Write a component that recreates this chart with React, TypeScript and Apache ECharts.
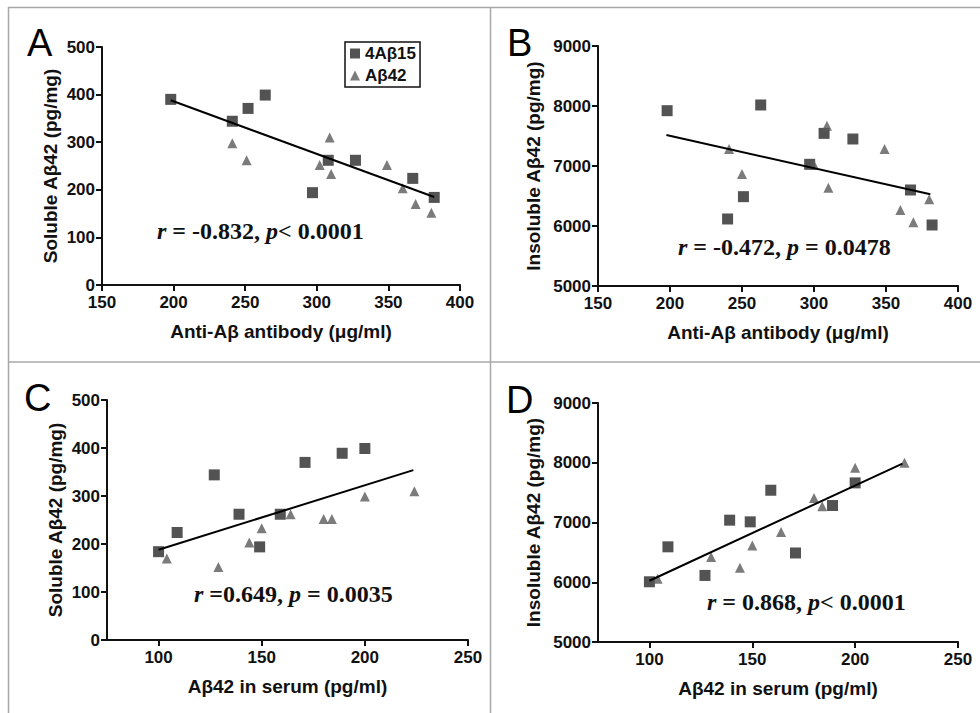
import React, { useEffect, useRef } from "react";
import * as echarts from "echarts";

// ---- Data ----
const seriesNames = ["4Aβ15", "Aβ42"];

// Panel A: Anti-Aβ antibody (μg/ml) vs soluble Aβ42 (pg/mg)
const aSquareX = [198, 241, 252, 264, 297, 308, 327, 367, 382];
const aSquareY = [390, 344, 371, 399, 194, 262, 262, 224, 184];
const aTriX = [241, 251, 302, 309, 310, 349, 360, 369, 380];
const aTriY = [298, 262, 252, 310, 233, 252, 203, 170, 152];
const aFitX = [198, 382];
const aFitY = [388, 185];

// Panel B: Anti-Aβ antibody vs insoluble Aβ42
const bSquareX = [198, 263, 307, 327, 297, 367, 251, 240, 382];
const bSquareY = [7922, 8017, 7544, 7450, 7028, 6600, 6489, 6117, 6017];
const bTriX = [241, 250, 300, 309, 310, 349, 360, 369, 380];
const bTriY = [7283, 6867, 7017, 7672, 6639, 7283, 6267, 6061, 6444];
const bFitX = [197.5, 380.8];
const bFitY = [7517, 6528];

// Panel C: Aβ42 in serum (pg/ml) vs soluble Aβ42
const cSquareX = [100, 109, 127, 139, 149, 159, 171, 189, 200];
const cSquareY = [184, 224, 344, 262, 194, 262, 370, 389, 399];
const cTriX = [104, 129, 144, 150, 164, 180, 184, 200, 224];
const cTriY = [170, 152, 203, 233, 262, 252, 252, 299, 310];
const cFitX = [100, 223.5];
const cFitY = [188, 354];

// Panel D: Aβ42 in serum vs insoluble Aβ42
const dSquareX = [100, 109, 127, 139, 149, 159, 171, 189, 200];
const dSquareY = [6008, 6593, 6114, 7039, 7011, 7540, 6490, 7284, 7663];
const dTriX = [104, 130, 144, 150, 164, 180, 184, 200, 224];
const dTriY = [6058, 6421, 6242, 6616, 6839, 7412, 7270, 7915, 7999];
const dFitX = [100, 223];
const dFitY = [6025, 7986];

// Axis ticks
const antibodyTicks = [150, 200, 250, 300, 350, 400];
const serumTicks = [100, 150, 200, 250];
const solubleTicks = [0, 100, 200, 300, 400, 500];
const insolubleTicks = [5000, 6000, 7000, 8000, 9000];

const panelLetters = ["A", "B", "C", "D"];
const statTexts = [
  "{i|r} = -0.832, {i|p}< 0.0001",
  "{i|r} = -0.472, {i|p} = 0.0478",
  "{i|r} =0.649, {i|p} = 0.0035",
  "{i|r} = 0.868, {i|p}< 0.0001",
];
const xNames = [
  "Anti-Aβ antibody (μg/ml)",
  "Anti-Aβ antibody (μg/ml)",
  "Aβ42 in serum (pg/ml)",
  "Aβ42 in serum (pg/ml)",
];
const yNames = [
  "Soluble Aβ42 (pg/mg)",
  "Insoluble Aβ42 (pg/mg)",
  "Soluble Aβ42 (pg/mg)",
  "Insoluble Aβ42 (pg/mg)",
];

const zip = (xs: number[], ys: number[]) => xs.map((x, i) => [x, ys[i]]);

const SANS = "Liberation Sans, Arial, sans-serif";
const SERIF = "Liberation Serif, Times New Roman, serif";
const SQ_COLOR = "#282828";
const TRI_COLOR = "#5a5a5a";

export default function App() {
  const ref = useRef<HTMLDivElement>(null);

  useEffect(() => {
    if (!ref.current) return;
    const chart = echarts.init(ref.current, undefined, { renderer: "svg" });

    const grids = [
      { left: 102, top: 47, width: 358, height: 238 },
      { left: 598, top: 46, width: 360, height: 240 },
      { left: 107, top: 400, width: 361, height: 240 },
      { left: 598, top: 403, width: 360, height: 239 },
    ];

    const axisCommon = {
      axisLine: { show: true, onZero: false, lineStyle: { color: "#111", width: 2 } },
      axisTick: { show: true, length: 6, lineStyle: { color: "#111", width: 2 } },
      splitLine: { show: false },
      nameLocation: "middle" as const,
      nameTextStyle: { fontFamily: SANS, fontWeight: "bold" as const, fontSize: 19, color: "#111" },
    };
    const labelCommon = {
      fontFamily: SANS,
      fontWeight: "bold" as const,
      fontSize: 17,
      color: "#111",
      formatter: (v: number) => String(v),
    };

    const xRanges = [
      { min: 150, max: 400, ticks: antibodyTicks },
      { min: 150, max: 400, ticks: antibodyTicks },
      { min: 75, max: 250, ticks: serumTicks },
      { min: 75, max: 250, ticks: serumTicks },
    ];
    const yRanges = [
      { min: 0, max: 500, ticks: solubleTicks },
      { min: 5000, max: 9000, ticks: insolubleTicks },
      { min: 0, max: 500, ticks: solubleTicks },
      { min: 5000, max: 9000, ticks: insolubleTicks },
    ];

    const xAxis = xRanges.map((r, i) => ({
      type: "value" as const,
      gridIndex: i,
      min: r.min,
      max: r.max,
      name: xNames[i],
      nameGap: 37,
      ...axisCommon,
      axisTick: { ...axisCommon.axisTick, customValues: r.ticks },
      axisLabel: { ...labelCommon, margin: 9, customValues: r.ticks },
    }));
    const yAxis = yRanges.map((r, i) => ({
      type: "value" as const,
      gridIndex: i,
      min: r.min,
      max: r.max,
      name: yNames[i],
      nameGap: i % 2 === 0 ? 42 : 55,
      ...axisCommon,
      axisTick: { ...axisCommon.axisTick, customValues: r.ticks },
      axisLabel: { ...labelCommon, margin: 7, customValues: r.ticks },
    }));

    const panels = [
      { sq: zip(aSquareX, aSquareY), tri: zip(aTriX, aTriY), fit: zip(aFitX, aFitY) },
      { sq: zip(bSquareX, bSquareY), tri: zip(bTriX, bTriY), fit: zip(bFitX, bFitY) },
      { sq: zip(cSquareX, cSquareY), tri: zip(cTriX, cTriY), fit: zip(cFitX, cFitY) },
      { sq: zip(dSquareX, dSquareY), tri: zip(dTriX, dTriY), fit: zip(dFitX, dFitY) },
    ];

    const series: any[] = [];
    panels.forEach((p, i) => {
      series.push({
        type: "scatter",
        name: seriesNames[0],
        xAxisIndex: i,
        yAxisIndex: i,
        symbol: "rect",
        symbolSize: 11,
        itemStyle: { color: SQ_COLOR },
        data: p.sq,
      });
      series.push({
        type: "scatter",
        name: seriesNames[1],
        xAxisIndex: i,
        yAxisIndex: i,
        symbol: "triangle",
        symbolSize: 10,
        itemStyle: { color: TRI_COLOR },
        data: p.tri,
      });
      series.push({
        type: "line",
        name: "fit" + i,
        xAxisIndex: i,
        yAxisIndex: i,
        showSymbol: false,
        symbol: "none",
        lineStyle: { color: "#000", width: 2 },
        data: p.fit,
        z: 3,
      });
    });

    const letterPos = [
      [27, 24],
      [507, 24],
      [24, 379],
      [506, 381],
    ];
    const statPos = [
      [157, 231],
      [678, 247],
      [194, 594],
      [707, 602],
    ];

    const graphic: any[] = [
      { type: "line", shape: { x1: 8, y1: 7.5, x2: 980, y2: 7.5 }, style: { stroke: "#a8a8a8", lineWidth: 1.5 }, silent: true },
      { type: "line", shape: { x1: 8.5, y1: 7, x2: 8.5, y2: 713 }, style: { stroke: "#a8a8a8", lineWidth: 1.5 }, silent: true },
      { type: "line", shape: { x1: 490.5, y1: 7, x2: 490.5, y2: 713 }, style: { stroke: "#a8a8a8", lineWidth: 1.5 }, silent: true },
      { type: "line", shape: { x1: 8, y1: 362, x2: 980, y2: 362 }, style: { stroke: "#a8a8a8", lineWidth: 1.5 }, silent: true },
    ];
    panelLetters.forEach((l, i) => {
      graphic.push({
        type: "text",
        left: letterPos[i][0],
        top: letterPos[i][1],
        style: { text: l, fontFamily: SANS, fontSize: 38, fill: "#000" },
        silent: true,
      });
    });
    statTexts.forEach((t, i) => {
      graphic.push({
        type: "text",
        x: statPos[i][0],
        y: statPos[i][1],
        style: {
          text: t,
          fontFamily: SERIF,
          fontWeight: "bold",
          fontSize: 24,
          fill: "#111",
          verticalAlign: "middle",
          rich: {
            i: { fontFamily: SERIF, fontWeight: "bold", fontStyle: "italic", fontSize: 24, fill: "#111" },
          },
        },
        silent: true,
      });
    });

    chart.setOption({
      animation: false,
      backgroundColor: "#fff",
      grid: grids.map((g) => ({ ...g, containLabel: false })),
      xAxis,
      yAxis,
      legend: {
        data: seriesNames,
        orient: "vertical",
        left: 345,
        top: 42,
        borderColor: "#111",
        borderWidth: 1.5,
        padding: [3, 4, 3, 5],
        itemWidth: 10,
        itemHeight: 10,
        itemGap: 5,
        selectedMode: false,
        textStyle: { fontFamily: SANS, fontWeight: "bold", fontSize: 17, color: "#111" },
      },
      series,
      graphic,
    });

    return () => chart.dispose();
  }, []);

  return (
    <div
      ref={ref}
      style={{ position: "fixed", left: 0, top: 0, width: 980, height: 713, background: "#fff" }}
    />
  );
}
